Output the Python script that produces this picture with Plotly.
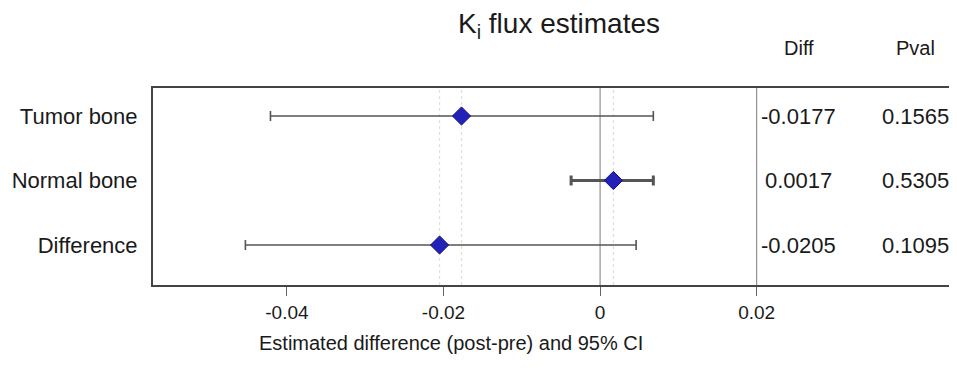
import plotly.graph_objects as go

categories = ["Tumor bone", "Normal bone", "Difference"]
estimates = [-0.0177, 0.0017, -0.0205]
ci_lower = [-0.0421, -0.0037, -0.0453]
ci_upper = [0.0068, 0.0068, 0.0046]
diff_text = ["-0.0177", "0.0017", "-0.0205"]
pval_text = ["0.1565", "0.5305", "0.1095"]
x_tick_vals = [-0.04, -0.02, 0, 0.02]
x_tick_text = ["-0.04", "-0.02", "0", "0.02"]

# page body adds an 8px offset; figure sized to fill the window
OFF = 8
W, H = 957 - OFF, 375 - OFF
ML, MR, MT, MB = 153 - OFF, 1, 88 - OFF, 90
plot_h = H - MT - MB


def py(screen_y):
    """paper y from a screen pixel row"""
    return (H - MB - (screen_y - OFF)) / plot_h


ypos = [3, 2, 1]
TXT = "#1a1a1a"

fig = go.Figure()

for i, cat in enumerate(categories):
    thick = 3 if cat == "Normal bone" else 1.6
    fig.add_trace(go.Scatter(
        x=[estimates[i]], y=[ypos[i]], mode="markers",
        marker=dict(symbol="diamond", size=14, color="#2222b8",
                    line=dict(color="#101080", width=1)),
        error_x=dict(type="data", symmetric=False,
                     array=[ci_upper[i] - estimates[i]],
                     arrayminus=[estimates[i] - ci_lower[i]],
                     color="#555555", thickness=thick, width=5),
        showlegend=False, hoverinfo="skip"))

shapes = []
for e in estimates:
    shapes.append(dict(type="line", xref="x", yref="paper", x0=e, x1=e, y0=0, y1=1,
                       line=dict(color="#e0e0d4", width=1.2, dash="dot"), layer="below"))
for v in [0, 0.02]:
    shapes.append(dict(type="line", xref="x", yref="paper", x0=v, x1=v, y0=0, y1=1,
                       line=dict(color="#7a7a7a", width=1), layer="below"))

diff_x, pval_x = 0.02535, 0.04025
annotations = []
for i in range(len(categories)):
    annotations.append(dict(x=diff_x, y=ypos[i], xref="x", yref="y", text=diff_text[i],
                            showarrow=False, font=dict(size=22, color=TXT)))
    annotations.append(dict(x=pval_x, y=ypos[i], xref="x", yref="y", text=pval_text[i],
                            showarrow=False, font=dict(size=22, color=TXT)))
annotations.append(dict(x=diff_x, y=py(48), xref="x", yref="paper", text="Diff",
                        showarrow=False, font=dict(size=20, color=TXT), yanchor="middle"))
annotations.append(dict(x=pval_x, y=py(48), xref="x", yref="paper", text="Pval",
                        showarrow=False, font=dict(size=20, color=TXT), yanchor="middle"))
annotations.append(dict(x=-0.019, y=py(343), xref="x", yref="paper",
                        text="Estimated difference (post-pre) and 95% CI", showarrow=False,
                        font=dict(size=20, color=TXT), yanchor="middle"))
annotations.append(dict(x=-0.0052, y=py(26), xref="x", yref="paper",
                        text="K<sub>i</sub> flux estimates", showarrow=False,
                        font=dict(size=28, color=TXT), yanchor="middle"))

fig.update_layout(
    width=W, height=H,
    margin=dict(l=ML, r=MR, t=MT, b=MB),
    paper_bgcolor="white", plot_bgcolor="white",
    font=dict(family="Liberation Sans, Arial, sans-serif", size=16, color=TXT),
    shapes=shapes, annotations=annotations,
    xaxis=dict(range=[-0.0571, 0.0452], tickvals=x_tick_vals, ticktext=x_tick_text,
               showgrid=False, zeroline=False, showline=True, mirror=True,
               linecolor="#444", linewidth=2, ticks="outside", ticklen=9,
               tickcolor="#666", tickwidth=1, tickfont=dict(size=19, color=TXT)),
    yaxis=dict(range=[0.38, 3.434], tickvals=ypos, ticktext=categories,
               showgrid=False, zeroline=False, showline=True, mirror=True,
               linecolor="#444", linewidth=2, ticks="", ticklabelstandoff=9,
               tickfont=dict(size=22, color=TXT)),
)

fig.write_html("out.html")
